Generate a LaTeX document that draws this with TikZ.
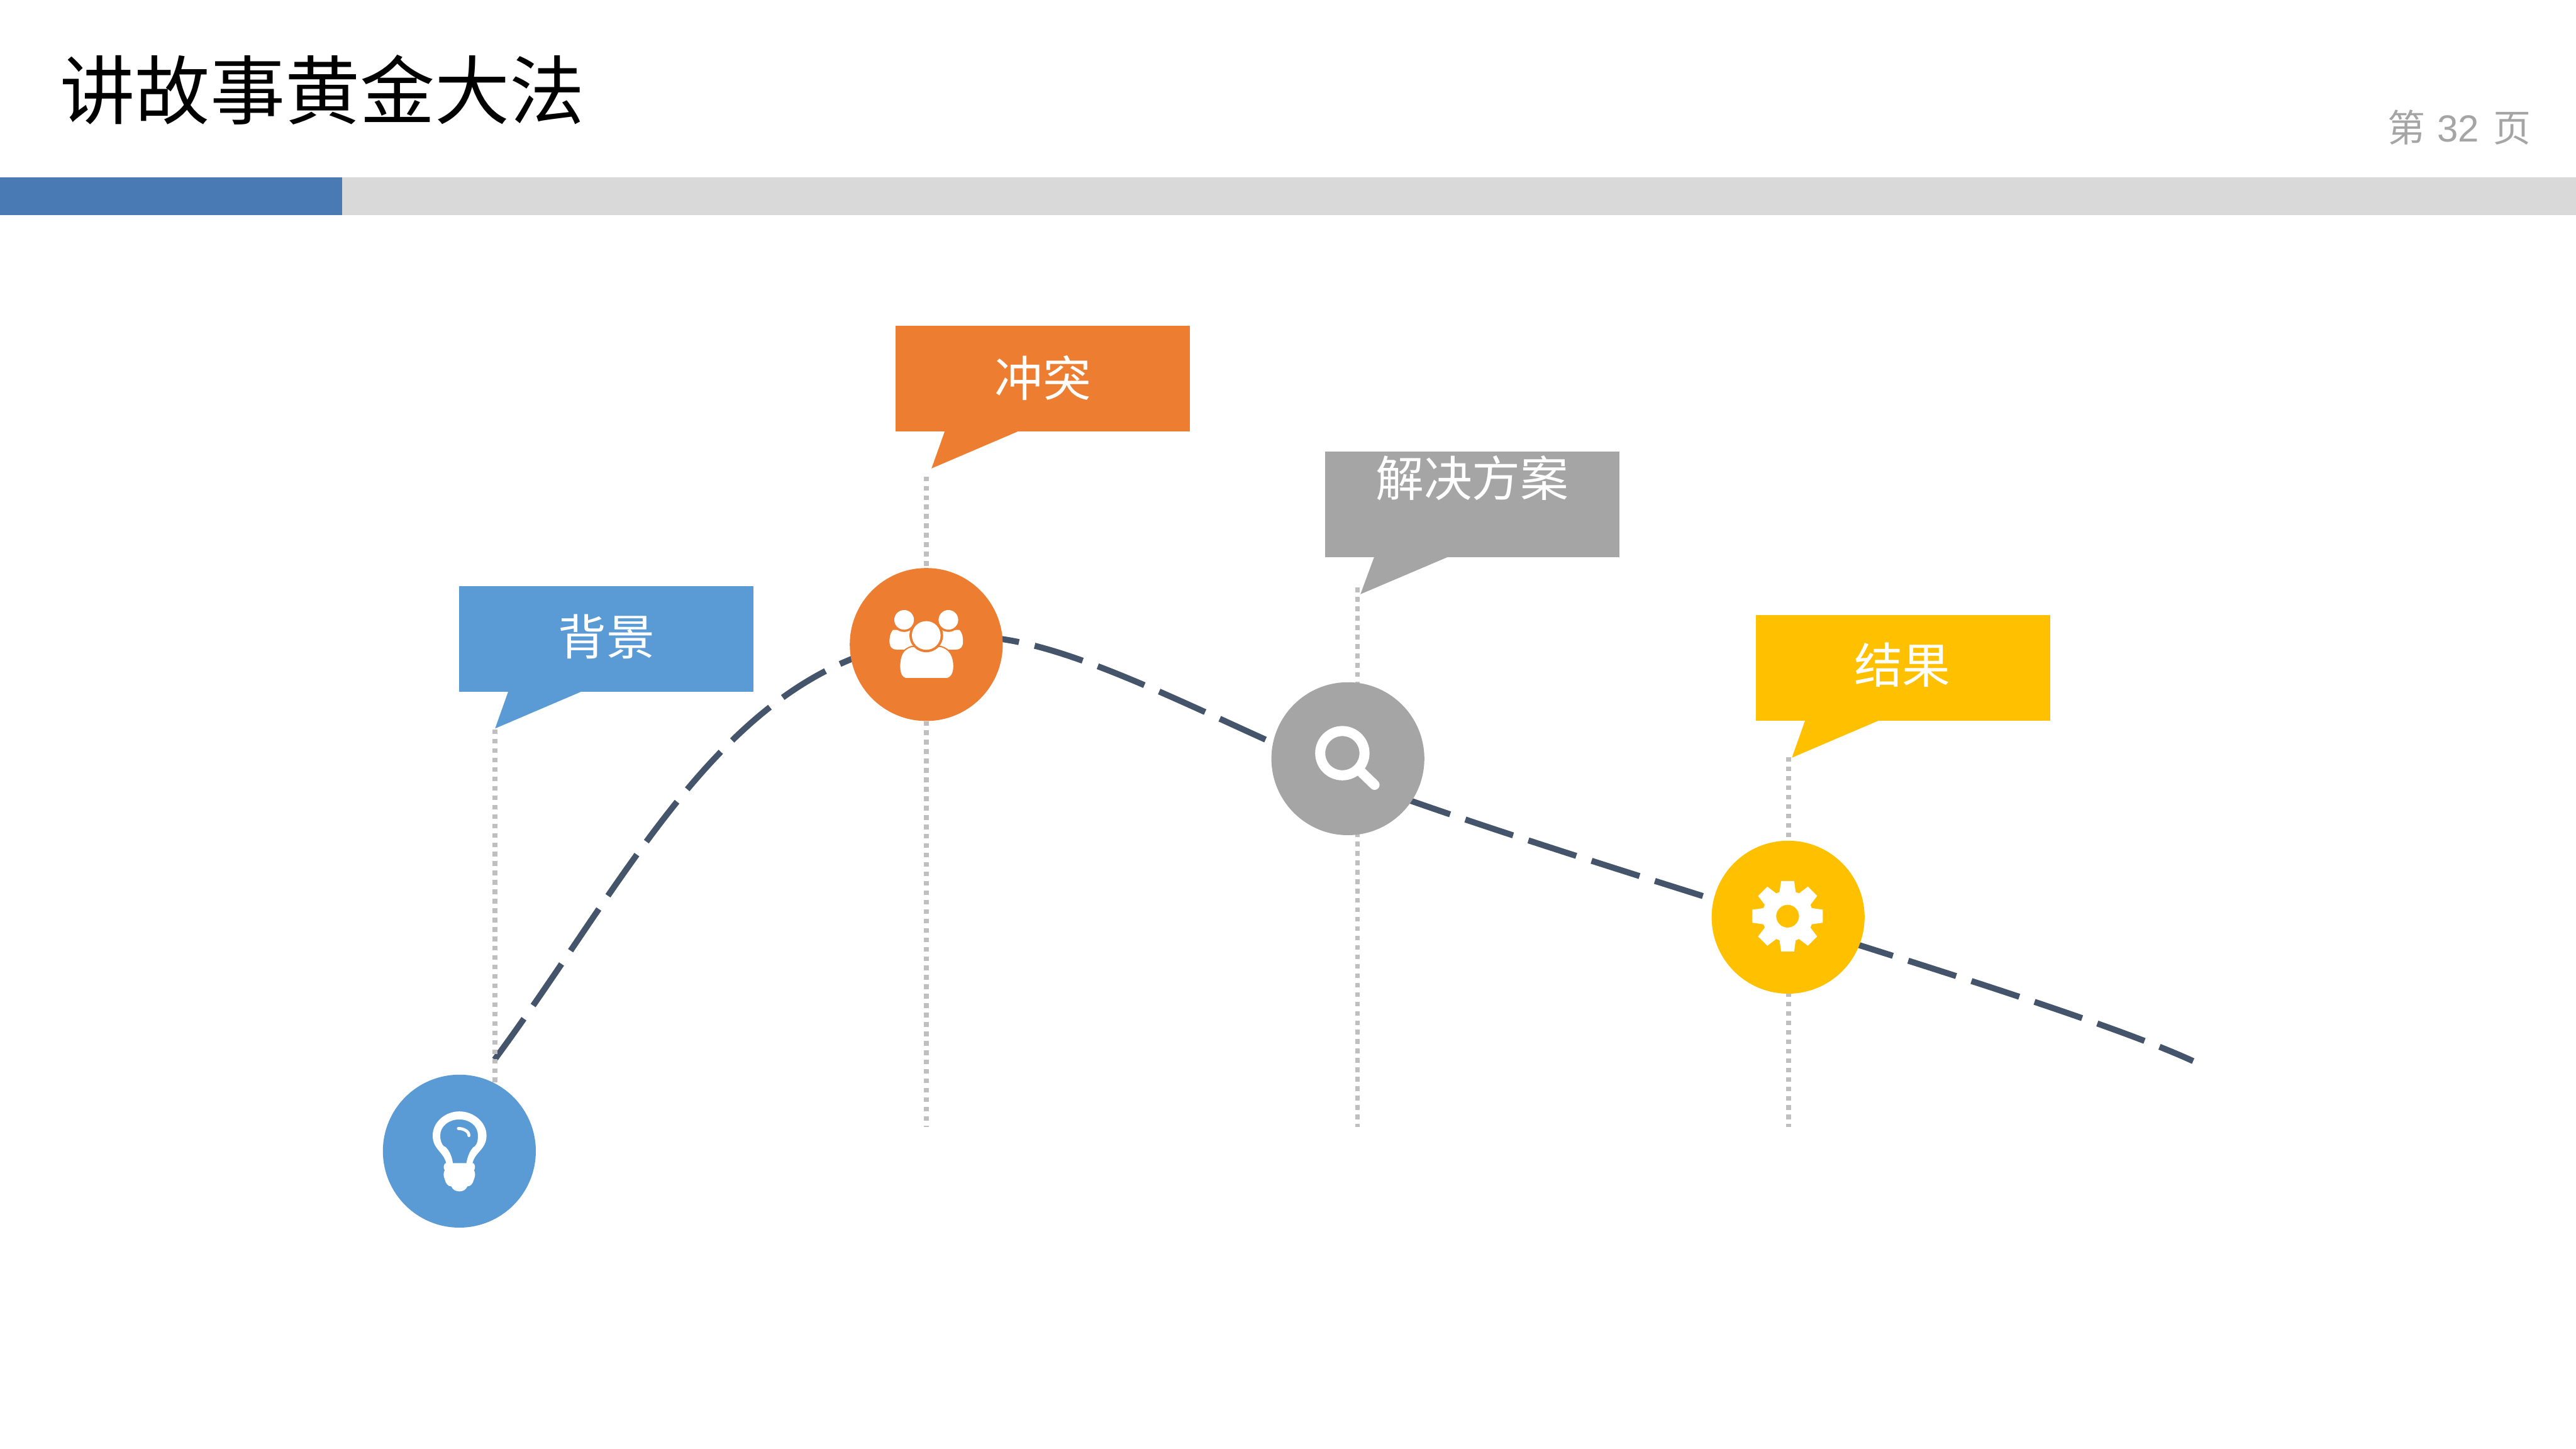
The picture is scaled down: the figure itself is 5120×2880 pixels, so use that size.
\documentclass[tikz,border=0pt]{standalone}
\usepackage{fontspec}
\setmainfont{Liberation Sans}
\newfontfamily\cjk{Noto Sans CJK SC}

\definecolor{cBlue}{HTML}{5B9BD5}
\definecolor{cOrange}{HTML}{ED7D31}
\definecolor{cGray}{HTML}{A5A5A5}
\definecolor{cYellow}{HTML}{FFC000}
\definecolor{cBar}{HTML}{4A7AB3}
\definecolor{cTrack}{HTML}{D9D9D9}
\definecolor{cCurve}{HTML}{44546A}
\definecolor{cGuide}{HTML}{BFBFBF}

\tikzset{every picture/.style={line width=0.75pt}}
\tikzset{
  badge/.style={circle,inner sep=0pt,outer sep=0pt,minimum size=30.4pt},
  bubble/.style={rectangle,inner sep=0pt,outer sep=0pt,minimum width=58.5pt,minimum height=21pt,anchor=north west},
  bubbletext/.style={inner sep=0pt,text=white,font=\cjk\fontsize{9.6}{11}\selectfont},
  guide/.style={draw=cGuide,line width=0.93pt,dash pattern=on 0.93pt off 0.94pt},
  story/.style={draw=cCurve,line width=1.2pt,dash pattern=on 10pt off 3.2pt},
  glyph/.style={fill=white,even odd rule}
}

\begin{document}
\begin{tikzpicture}[x=0.1pt,y=0.1pt,yscale=-1,xscale=1]
        \useasboundingbox (0,0) rectangle (5120,2880);

        %Header
        \node[inner sep=0pt,anchor=west,font=\cjk\fontsize{14.9}{18}\selectfont] (title) at (116,178) {讲故事黄金大法};
        \node[inner sep=0pt,anchor=east,text=cGray,font=\fontsize{7.5}{9}\selectfont] (pageno) at (5034,253) {{\cjk 第}\hspace{0.3pt} 32\hspace{0.65pt} {\cjk 页}};
        \fill[fill=cTrack] (0,352) rectangle (5120,427);
        \fill[fill=cBar] (0,352) rectangle (680,427);

        %Named points
        \coordinate (tipbg) at (984,1448);
        \coordinate (tipcf) at (1851.5,931);
        \coordinate (tipso) at (2704,1181);
        \coordinate (tipre) at (3561.5,1506);
        \coordinate (topbg) at (984,1450);
        \coordinate (topcf) at (1841,947);
        \coordinate (topso) at (2698,1168);
        \coordinate (topre) at (3555,1505);
        \coordinate (footbg) at (984,2240);
        \coordinate (footcf) at (1841,2240);
        \coordinate (footso) at (2698,2240);
        \coordinate (footre) at (3555,2240);
        \coordinate (storystart) at (983,2106);
        \coordinate (storypeak) at (1990,1270);
        \coordinate (storymid) at (2808,1593);
        \coordinate (storyend) at (4359,2109);

        %Curve Lines
        \draw[story] (storystart) .. controls (1290,1690) and (1490,1222) .. (storypeak) .. controls (2200,1300) and (2500,1480) .. (storymid) .. controls (3300,1765) and (4100,1990) .. (storyend);

        %Guides
        \draw[guide] (topbg) -- (footbg);
        \draw[guide] (topcf) -- (footcf);
        \draw[guide] (topso) -- (footso);
        \draw[guide] (topre) -- (footre);

        %Callouts
        \node[bubble,fill=cBlue] (boxbg) at (912.5,1165) {};
        \fill[fill=cBlue] (1011.4,1371) -- (tipbg) -- (1164,1371) -- cycle;
        \node[bubble,fill=cOrange] (boxcf) at (1780,647) {};
        \fill[fill=cOrange] (1878.9,854) -- (tipcf) -- (2031.5,854) -- cycle;
        \node[bubble,fill=cGray] (boxso) at (2633.5,897) {};
        \fill[fill=cGray] (2732.4,1104) -- (tipso) -- (2885,1104) -- cycle;
        \node[bubble,fill=cYellow] (boxre) at (3490,1223) {};
        \fill[fill=cYellow] (3588.9,1429) -- (tipre) -- (3741.5,1429) -- cycle;

        \node[bubbletext] (txtbg) at (1205,1265) {背景};
        \node[bubbletext] (txtcf) at (2073,751) {冲突};
        \node[bubbletext] (txtso) at (2926,950) {解决方案};
        \node[bubbletext] (txtre) at (3781,1322) {结果};

        %Shape: Circle
        \node[badge,fill=cBlue] (bulb) at (913,2288) {};
        \node[badge,fill=cOrange] (team) at (1841,1281) {};
        \node[badge,fill=cGray] (lens) at (2679,1508) {};
        \node[badge,fill=cYellow] (gear) at (3554,1823) {};

        %Icon: bulb
        \fill[glyph] (913,2209) .. controls (885,2209) and (860,2230) .. (860,2257) .. controls (860,2285) and (883,2290) .. (887,2313) -- (939,2313) .. controls (943,2290) and (967,2285) .. (967,2257) .. controls (967,2230) and (941,2209) .. (913,2209) -- cycle
          (913,2225) .. controls (892,2225) and (875,2238) .. (875,2257) .. controls (875,2268) and (878,2274) .. (882,2278) .. controls (890,2280) and (899,2298) .. (900,2312) -- (927,2312) .. controls (929,2298) and (936,2282) .. (944,2278) .. controls (948,2274) and (950,2268) .. (950,2257) .. controls (950,2238) and (934,2225) .. (913,2225) -- cycle;
        \fill[fill=white] (885,2312) -- (941,2312) .. controls (945,2316) and (945,2322) .. (942,2326) .. controls (945,2330) and (945,2338) .. (942,2344) .. controls (940,2352) and (936,2358) .. (929,2358) .. controls (926,2365) and (920,2368) .. (913,2368) .. controls (906,2368) and (900,2365) .. (897,2358) .. controls (890,2358) and (886,2352) .. (884,2344) .. controls (881,2338) and (881,2330) .. (884,2326) .. controls (881,2322) and (881,2316) .. (885,2312) -- cycle;
        \draw[white,line width=0.6pt,line cap=round] (911,2243) .. controls (921,2243) and (932,2248) .. (932,2257);

        %Icon: team
        \fill[fill=white] (1775,1252) .. controls (1768,1260) and (1768,1270) .. (1768,1275) .. controls (1768,1285) and (1772,1291) .. (1782,1291) -- (1830,1291) -- (1830,1252) -- cycle;
        \fill[fill=white] (1907,1252) .. controls (1914,1260) and (1914,1270) .. (1914,1275) .. controls (1914,1285) and (1910,1291) .. (1900,1291) -- (1852,1291) -- (1852,1252) -- cycle;
        \fill[fill=cOrange] (1797,1232) circle (24);
        \fill[fill=cOrange] (1885,1232) circle (24);
        \fill[fill=white] (1797,1232) circle (19.5);
        \fill[fill=white] (1885,1232) circle (19.5);
        \filldraw[fill=white,draw=cOrange,line width=0.25pt] (1803,1349) .. controls (1793,1349) and (1788,1340) .. (1788,1325) .. controls (1788,1305) and (1793,1290) .. (1812,1285) -- (1870,1285) .. controls (1889,1290) and (1896,1305) .. (1896,1325) .. controls (1896,1340) and (1889,1349) .. (1880,1349) -- cycle;
        \fill[fill=cOrange] (1841,1263) circle (33.5);
        \fill[fill=white] (1841,1263) circle (28.5);

        %Icon: lens
        \draw[white,line width=2pt] (2668,1497) circle (44);
        \draw[white,line width=2pt,line cap=round] (2702,1531) -- (2732,1560);

        %Icon: gear
        \fill[glyph,shift={(3553,1821)}] (48,-16) -- (70,-13) -- (70,13) -- (48,16) -- (45.3,22.6) -- (58.7,40.3) -- (40.3,58.7) -- (22.6,45.3) -- (16,48) -- (13,70) -- (-13,70) -- (-16,48) -- (-22.6,45.3) -- (-40.3,58.7) -- (-58.7,40.3) -- (-45.3,22.6) -- (-48,16) -- (-70,13) -- (-70,-13) -- (-48,-16) -- (-45.3,-22.6) -- (-58.7,-40.3) -- (-40.3,-58.7) -- (-22.6,-45.3) -- (-16,-48) -- (-13,-70) -- (13,-70) -- (16,-48) -- (22.6,-45.3) -- (40.3,-58.7) -- (58.7,-40.3) -- (45.3,-22.6) -- cycle
          (0,0) circle (22.7);

\end{tikzpicture}
\end{document}
